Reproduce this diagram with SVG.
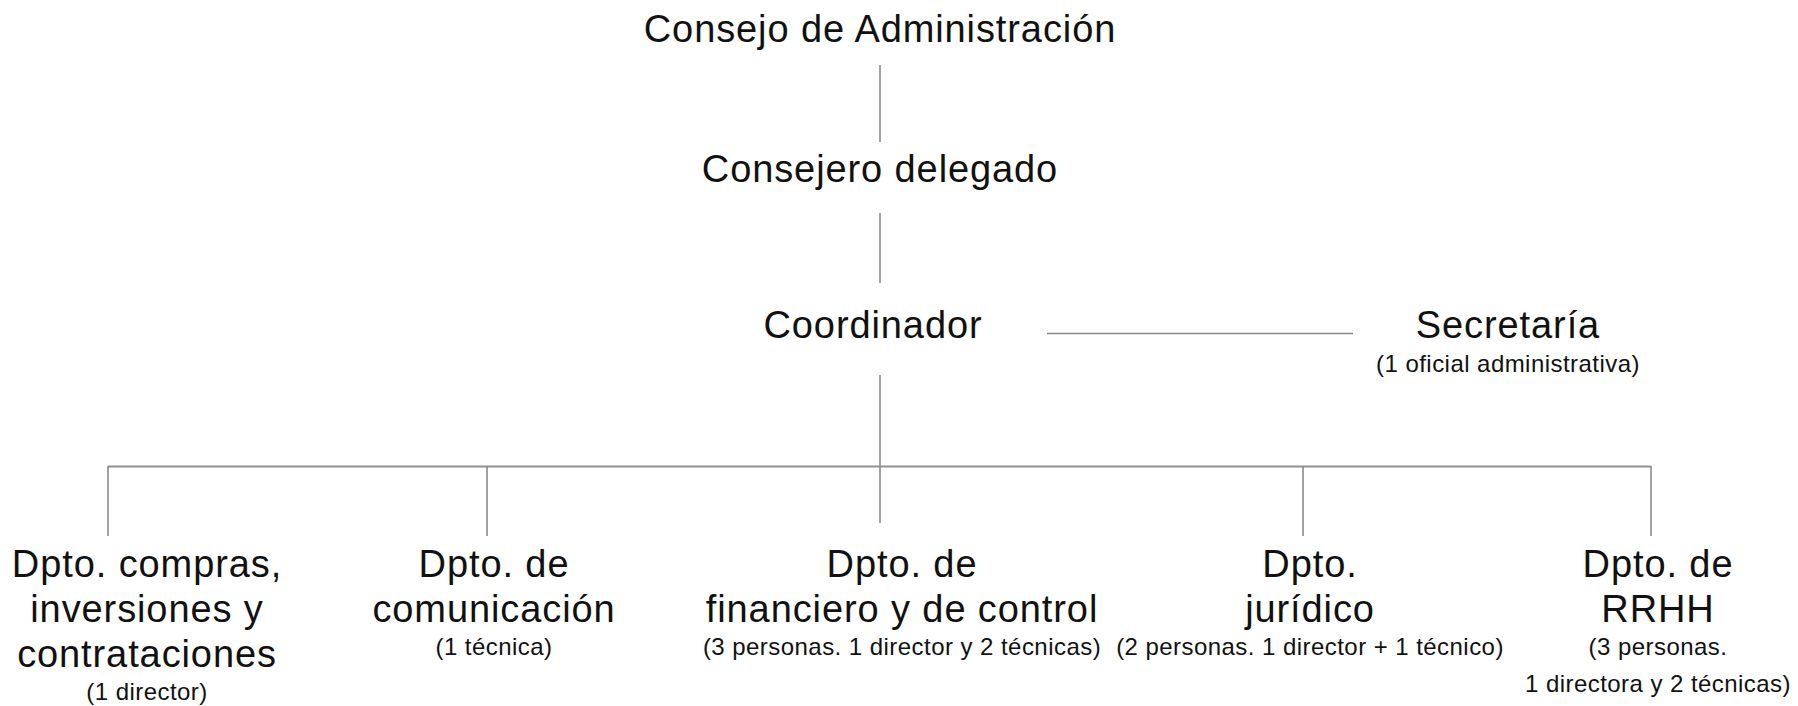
<svg xmlns="http://www.w3.org/2000/svg" width="1798" height="706" viewBox="0 0 1798 706">
<style>
  .t { font-family: "Liberation Sans", Arial, sans-serif; font-size: 38px; letter-spacing: 0.9px; fill: #111; text-anchor: middle; }
  .s { font-family: "Liberation Sans", Arial, sans-serif; font-size: 24px; letter-spacing: 0.45px; fill: #111; text-anchor: middle; }
  .c line { stroke: #8a8a8a; stroke-width: 1.6; fill: none; }
  .c .bus { stroke-width: 2.2; stroke: #909090; }
</style>
<rect width="1798" height="706" fill="#ffffff"/>
<g id="connectors" class="c">
  <line x1="880" y1="65" x2="880" y2="142"/>
  <line x1="880" y1="213" x2="880" y2="283"/>
  <line x1="880" y1="375" x2="880" y2="523"/>
  <line x1="1047" y1="333.5" x2="1353" y2="333.5"/>
  <line class="bus" x1="108" y1="466.5" x2="1651" y2="466.5"/>
  <line x1="108" y1="466" x2="108" y2="536"/>
  <line x1="487" y1="466" x2="487" y2="536"/>
  <line x1="1303" y1="466" x2="1303" y2="536"/>
  <line x1="1651" y1="466" x2="1651" y2="536"/>
</g>
<g id="consejo-administracion">
  <text class="t" x="880" y="42">Consejo de Administración</text>
</g>
<g id="consejero-delegado">
  <text class="t" x="880" y="182">Consejero delegado</text>
</g>
<g id="coordinador">
  <text class="t" x="873" y="338">Coordinador</text>
</g>
<g id="secretaria">
  <text class="t" x="1508" y="338">Secretaría</text>
  <text class="s" x="1508" y="372">(1 oficial administrativa)</text>
</g>
<g id="dpto-compras">
  <text class="t" x="147" y="577">Dpto. compras,</text>
  <text class="t" x="147" y="622">inversiones y</text>
  <text class="t" x="147" y="667">contrataciones</text>
  <text class="s" x="147" y="700">(1 director)</text>
</g>
<g id="dpto-comunicacion">
  <text class="t" x="494" y="577">Dpto. de</text>
  <text class="t" x="494" y="622">comunicación</text>
  <text class="s" x="494" y="655">(1 técnica)</text>
</g>
<g id="dpto-financiero">
  <text class="t" x="902" y="577">Dpto. de</text>
  <text class="t" x="902" y="622">financiero y de control</text>
  <text class="s" x="902" y="655">(3 personas. 1 director y 2 técnicas)</text>
</g>
<g id="dpto-juridico">
  <text class="t" x="1310" y="577">Dpto.</text>
  <text class="t" x="1310" y="622">jurídico</text>
  <text class="s" x="1310" y="655">(2 personas. 1 director + 1 técnico)</text>
</g>
<g id="dpto-rrhh">
  <text class="t" x="1658" y="577">Dpto. de</text>
  <text class="t" x="1658" y="622">RRHH</text>
  <text class="s" x="1658" y="655">(3 personas.</text>
  <text class="s" x="1658" y="692">1 directora y 2 técnicas)</text>
</g>
</svg>
